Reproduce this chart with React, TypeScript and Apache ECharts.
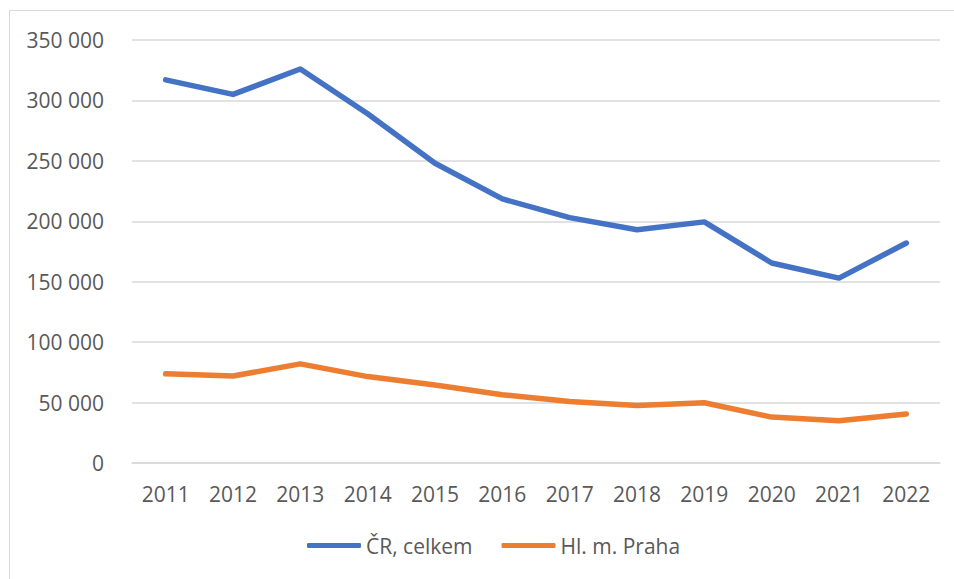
import React, { useEffect, useRef } from "react";
import * as echarts from "echarts";

const years = ["2011", "2012", "2013", "2014", "2015", "2016", "2017", "2018", "2019", "2020", "2021", "2022"];
const crTotal = [317000, 305000, 326000, 289000, 248000, 218500, 203000, 193000, 199500, 165500, 153000, 182000];
const praha = [73800, 72000, 82000, 71500, 64500, 56500, 50800, 47500, 49800, 38000, 35000, 40500];
const seriesNames = ["ČR, celkem", "Hl. m. Praha"];
const colors = ["#4472C4", "#ED7D31"];

const fmt = (v: number) => String(v).replace(/\B(?=(\d{3})+(?!\d))/g, " ");

export default function App() {
  const ref = useRef<HTMLDivElement>(null);
  useEffect(() => {
    if (!ref.current) return;
    const chart = echarts.init(ref.current, null, { renderer: "svg" });
    const font = "'Open Sans', sans-serif";
    chart.setOption({
      animation: false,
      backgroundColor: "#ffffff",
      textStyle: { fontFamily: font },
      graphic: [
        {
          type: "rect",
          shape: { x: 9.5, y: 10.5, width: 1000, height: 1000 },
          style: { fill: "none", stroke: "#d9d9d9", lineWidth: 1 },
          silent: true,
        },
      ],
      grid: { left: 132, right: 14, top: 40, bottom: 116, containLabel: false },
      legend: {
        left: 307,
        top: 535,
        padding: 0,
        itemWidth: 54,
        itemHeight: 5,
        itemGap: 29,
        icon: "roundRect",
        textStyle: { color: "#595959", fontSize: 21, fontFamily: font },
        data: seriesNames,
      },
      xAxis: {
        type: "category",
        data: years,
        boundaryGap: true,
        axisLine: { show: true, lineStyle: { color: "#d9d9d9", width: 1.5 } },
        axisTick: { show: false },
        axisLabel: { color: "#595959", fontSize: 21, margin: 20, fontFamily: font },
      },
      yAxis: {
        type: "value",
        min: 0,
        max: 350000,
        interval: 50000,
        axisLine: { show: false },
        axisTick: { show: false },
        splitLine: { lineStyle: { color: "#d9d9d9", width: 1.5 } },
        axisLabel: { color: "#595959", fontSize: 21, margin: 28, fontFamily: font, formatter: fmt },
      },
      series: [
        {
          name: seriesNames[0],
          type: "line",
          data: crTotal,
          symbol: "none",
          color: colors[0],
          lineStyle: { width: 5.5, color: colors[0], cap: "round", join: "round" },
        },
        {
          name: seriesNames[1],
          type: "line",
          data: praha,
          symbol: "none",
          color: colors[1],
          lineStyle: { width: 5.5, color: colors[1], cap: "round", join: "round" },
        },
      ],
    });
    return () => chart.dispose();
  }, []);
  return (
    <div
      ref={ref}
      style={{ position: "fixed", left: 0, top: 0, width: 954, height: 579 }}
    />
  );
}
